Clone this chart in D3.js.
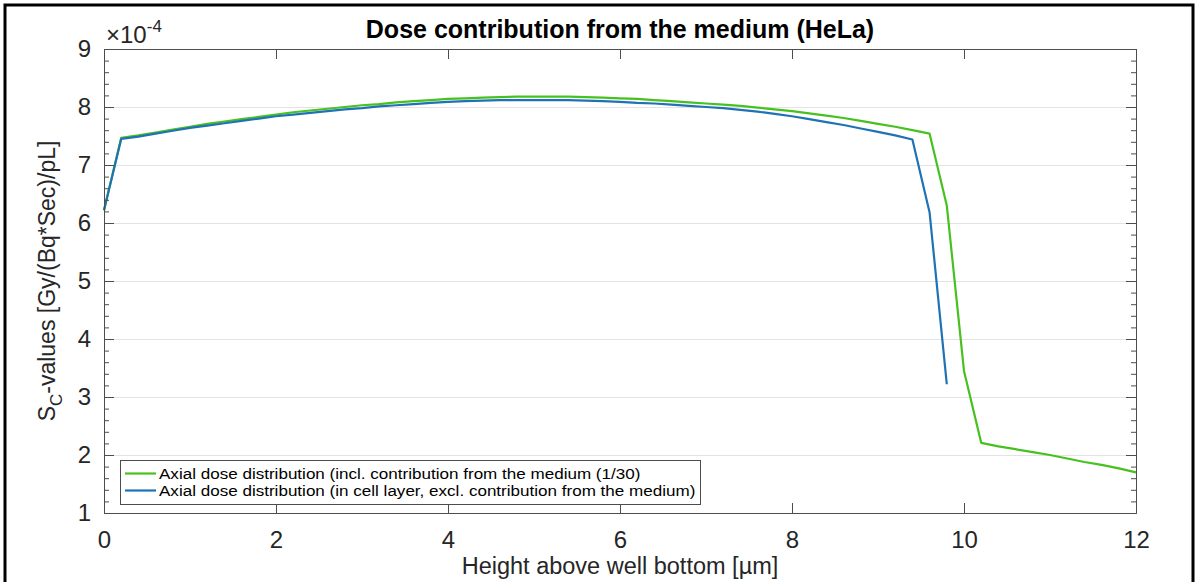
<!DOCTYPE html>
<html lang="en">
<head>
<meta charset="UTF-8" />
<title>Dose contribution from the medium (HeLa)</title>
<script src="https://cdn.jsdelivr.net/npm/d3@7"></script>
<style>
  body { margin: 0; background: #fff; }
  svg { display: block; font-family: "Liberation Sans", Arial, sans-serif; }
</style>
</head>
<body>
<script>
// values are in units of 1e-4 Gy/(Bq*Sec)/pL
var exponent = -4;

var greenX = [0, 0.2, 0.4, 0.6, 0.8, 1.0, 1.2, 1.4, 1.6, 1.8, 2.0, 2.2, 2.4, 2.6, 2.8, 3.0, 3.2, 3.4, 3.6, 3.8,
              4.0, 4.2, 4.4, 4.6, 4.8, 5.0, 5.2, 5.4, 5.6, 5.8, 6.0, 6.2, 6.4, 6.6, 6.8, 7.0, 7.2, 7.4, 7.6, 7.8,
              8.0, 8.2, 8.4, 8.6, 8.8, 9.0, 9.2, 9.4, 9.6, 9.8, 10.0, 10.2, 10.4, 10.6, 10.8, 11.0, 11.2, 11.4,
              11.6, 11.8, 12.0];
var greenY = [6.22, 7.47, 7.51, 7.56, 7.61, 7.66, 7.71, 7.75, 7.79, 7.83, 7.87, 7.91, 7.94, 7.97, 8.00, 8.03, 8.05, 8.08, 8.10, 8.12,
              8.14, 8.15, 8.16, 8.17, 8.18, 8.18, 8.18, 8.18, 8.17, 8.16, 8.15, 8.14, 8.12, 8.10, 8.08, 8.06, 8.04, 8.02, 7.99, 7.96,
              7.93, 7.89, 7.85, 7.81, 7.76, 7.71, 7.66, 7.60, 7.54, 6.30, 3.45, 2.21, 2.15, 2.10, 2.05, 2.00, 1.94, 1.88,
              1.83, 1.77, 1.70];

var blueX = [0, 0.2, 0.4, 0.6, 0.8, 1.0, 1.2, 1.4, 1.6, 1.8, 2.0, 2.2, 2.4, 2.6, 2.8, 3.0, 3.2, 3.4, 3.6, 3.8,
             4.0, 4.2, 4.4, 4.6, 4.8, 5.0, 5.2, 5.4, 5.6, 5.8, 6.0, 6.2, 6.4, 6.6, 6.8, 7.0, 7.2, 7.4, 7.6, 7.8,
             8.0, 8.2, 8.4, 8.6, 8.8, 9.0, 9.2, 9.4, 9.6, 9.8];
var blueY = [6.22, 7.45, 7.49, 7.54, 7.59, 7.64, 7.68, 7.72, 7.76, 7.80, 7.84, 7.87, 7.90, 7.93, 7.96, 7.98, 8.01, 8.03, 8.05, 8.07,
             8.09, 8.10, 8.11, 8.12, 8.12, 8.12, 8.12, 8.12, 8.11, 8.10, 8.09, 8.07, 8.06, 8.04, 8.02, 8.00, 7.98, 7.95, 7.92, 7.88,
             7.84, 7.79, 7.74, 7.69, 7.63, 7.57, 7.51, 7.44, 6.18, 3.22];

var seriesNames = ["Axial dose distribution (incl. contribution from the medium (1/30)",
                   "Axial dose distribution (in cell layer, excl. contribution from the medium)"];
var seriesColors = ["#47c11f", "#1f72b4"];

var xTicks = [0, 2, 4, 6, 8, 10, 12];
var yTicks = [1, 2, 3, 4, 5, 6, 7, 8, 9];
var yMinor = [];
for (var v = 1; v <= 9.001; v += 0.2) yMinor.push(+v.toFixed(1));

var w = 1196, h = 582;
var mLeft = 104, mRight = 1136, mTop = 49, mBottom = 513;
var axisCol = "#4d4d4d";

var svg = d3.select("body").append("svg").attr("width", w).attr("height", h);

// outer frame of the figure
svg.append("path")
   .attr("d", "M5,582 V5 H1193 V582")
   .attr("fill", "none")
   .attr("stroke", "#000")
   .attr("stroke-width", 3);

var xScale = d3.scaleLinear().domain([0, 12]).range([mLeft, mRight]);
var yScale = d3.scaleLinear().domain([1, 9]).range([mBottom, mTop]);

// grid
svg.append("g")
   .attr("transform", "translate(" + mLeft + ",0)")
   .call(d3.axisLeft(yScale).tickValues(yTicks).tickSize(-(mRight - mLeft)).tickFormat(""))
   .call(function(g) {
     g.select(".domain").remove();
     g.selectAll("line").attr("stroke", "#e3e3e3");
   });

// lines
var line = d3.line()
             .x(function(d) { return xScale(d[0]); })
             .y(function(d) { return yScale(d[1]); });

var greenData = greenX.map(function(x, i) { return [x, greenY[i]]; });
var blueData = blueX.map(function(x, i) { return [x, blueY[i]]; });

svg.append("path").datum(greenData)
   .attr("d", line).attr("fill", "none")
   .attr("stroke", seriesColors[0]).attr("stroke-width", 2.2).attr("stroke-linejoin", "round");
svg.append("path").datum(blueData)
   .attr("d", line).attr("fill", "none")
   .attr("stroke", seriesColors[1]).attr("stroke-width", 2.2).attr("stroke-linejoin", "round");

// axes (ticks point inward, box on)
function styleAxis(g) {
  g.selectAll("path, line").attr("stroke", axisCol);
  g.selectAll("text").attr("fill", "#262626").attr("font-size", 24);
}

svg.append("g").attr("transform", "translate(0," + mBottom + ")")
   .call(d3.axisBottom(xScale).tickValues(xTicks).tickSize(-10).tickSizeOuter(0).tickPadding(18).tickFormat(d3.format("d")))
   .call(styleAxis)
   .call(function(g) { g.selectAll("text").attr("dy", "0.71em"); });

svg.append("g").attr("transform", "translate(0," + mTop + ")")
   .call(d3.axisTop(xScale).tickValues(xTicks).tickSize(-10).tickSizeOuter(0).tickFormat(""))
   .call(styleAxis);

svg.append("g").attr("transform", "translate(" + mLeft + ",0)")
   .call(d3.axisLeft(yScale).tickValues(yTicks).tickSize(-10).tickSizeOuter(0).tickPadding(13).tickFormat(d3.format("d")))
   .call(styleAxis);

svg.append("g").attr("transform", "translate(" + mRight + ",0)")
   .call(d3.axisRight(yScale).tickValues(yTicks).tickSize(-10).tickSizeOuter(0).tickFormat(""))
   .call(styleAxis);

// minor y ticks
svg.append("g").attr("transform", "translate(" + mLeft + ",0)")
   .call(d3.axisLeft(yScale).tickValues(yMinor).tickSize(-5).tickSizeOuter(0).tickFormat(""))
   .call(styleAxis);
svg.append("g").attr("transform", "translate(" + mRight + ",0)")
   .call(d3.axisRight(yScale).tickValues(yMinor).tickSize(-5).tickSizeOuter(0).tickFormat(""))
   .call(styleAxis);

// exponent label
var expo = svg.append("text")
   .attr("x", mLeft + 2).attr("y", 43)
   .attr("fill", "#262626").attr("font-size", 24);
expo.append("tspan").text("\u00d710");
expo.append("tspan").attr("dy", -11).attr("font-size", 17).text(exponent);

// title
svg.append("text")
   .attr("x", (mLeft + mRight) / 2).attr("y", 38)
   .attr("text-anchor", "middle")
   .attr("font-size", 25).attr("font-weight", "bold").attr("fill", "#000")
   .text("Dose contribution from the medium (HeLa)");

// x label
svg.append("text")
   .attr("x", (mLeft + mRight) / 2).attr("y", 574)
   .attr("text-anchor", "middle")
   .attr("font-size", 23.5).attr("fill", "#262626")
   .text("Height above well bottom [\u00b5m]");

// y label
var yl = svg.append("text")
   .attr("text-anchor", "middle")
   .attr("font-size", 23).attr("fill", "#262626")
   .attr("transform", "translate(55," + ((mTop + mBottom) / 2) + ") rotate(-90)");
yl.append("tspan").text("S");
yl.append("tspan").attr("font-size", 17).attr("dy", 7).text("C");
yl.append("tspan").attr("dy", -7).text("-values [Gy/(Bq*Sec)/pL]");

// legend
var leg = svg.append("g");
leg.append("rect")
   .attr("x", 120.5).attr("y", 460.5).attr("width", 580).attr("height", 44)
   .attr("fill", "#fff").attr("stroke", axisCol).attr("stroke-width", 1);
seriesNames.forEach(function(name, i) {
  var cy = 473.5 + i * 17;
  leg.append("line")
     .attr("x1", 125).attr("x2", 156).attr("y1", cy).attr("y2", cy)
     .attr("stroke", seriesColors[i]).attr("stroke-width", 2.2);
  var t = leg.append("text")
     .attr("x", 159).attr("y", cy).attr("dy", "0.35em")
     .attr("font-size", 15.5).attr("fill", "#000")
     .text(name);
  // the reference legend text runs a little wider than the font
  var natural = t.node().getComputedTextLength();
  t.attr("textLength", natural * 1.1).attr("lengthAdjust", "spacingAndGlyphs");
});
</script>
</body>
</html>
